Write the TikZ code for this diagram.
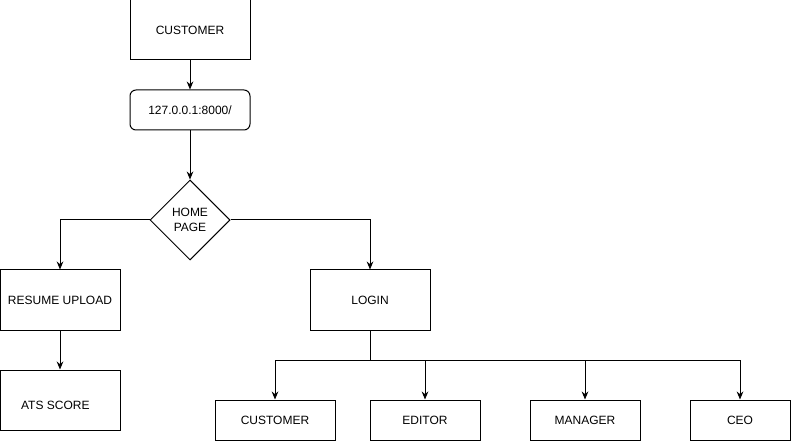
\documentclass[tikz,border=0pt]{standalone}
\usepackage{fontspec}
\setmainfont{Liberation Sans}
\usetikzlibrary{shapes.geometric,arrows.meta}

\begin{document}
\begin{tikzpicture}[x=0.75pt,y=-0.75pt,
    every node/.style={font=\fontsize{9}{11}\selectfont},
    box/.style={draw,line width=0.75pt,minimum width=90pt,minimum height=45pt,inner sep=0pt},
    smallbox/.style={draw,line width=0.75pt,minimum width=#1,minimum height=30pt,inner sep=0pt},
    urlbox/.style={draw,line width=0.75pt,rounded corners=4.5pt,minimum width=90pt,minimum height=30pt,inner sep=0pt},
    choice/.style={draw,line width=0.75pt,diamond,aspect=1,minimum width=60pt,minimum height=60pt,inner sep=0pt,align=center},
    link/.style={line width=0.75pt,-{Stealth[length=6pt,width=5pt]}}]
    \useasboundingbox (0,0) rectangle (791,441);
    % top of the flow
    \node[box] (customer) at (190,30) {CUSTOMER};
    \node[urlbox] (url) at (190,110) {127.0.0.1:8000/};
    \node[choice] (home) at (190,220) {HOME\\PAGE};
    % left branch
    \node[box] (resume) at (60,300) {RESUME UPLOAD};
    \node[box] (ats) at (60,400) {\hspace*{-7pt}\raisebox{-3.75pt}[\height][\depth]{ATS SCORE}};
    % right branch
    \node[box] (login) at (370,300) {LOGIN};
    \coordinate (bus) at (370,360);
    \node[smallbox=90pt] (cust) at (275,420) {CUSTOMER};
    \node[smallbox=82.5pt] (editor) at (425,420) {EDITOR};
    \node[smallbox=82.5pt] (manager) at (585,420) {MANAGER};
    \node[smallbox=75pt] (ceo) at (740,420) {CEO};

    \draw[link] (customer) -- (url);
    \draw[link] (url) -- (home);
    \draw[link] (home.west) -| (resume.north);
    \draw[link] (home.east) -| (login.north);
    \draw[link] (resume) -- (ats);
    \draw[line width=0.75pt] (login.south) -- (bus);
    \draw[link] (bus) -| (cust.north);
    \draw[link] (bus) -| (editor.north);
    \draw[link] (bus) -| (manager.north);
    \draw[link] (bus) -| (ceo.north);
\end{tikzpicture}
\end{document}
